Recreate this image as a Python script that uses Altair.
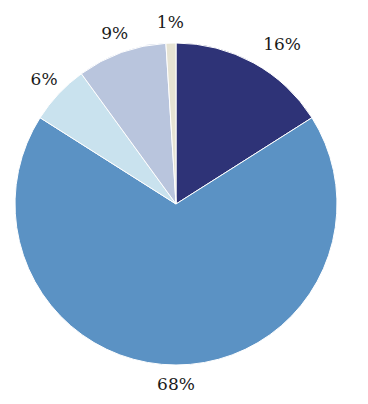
import altair as alt
import pandas as pd

categories = ["A", "B", "C", "D", "E"]
values = [16, 68, 6, 9, 1]
labels = ["16%", "68%", "6%", "9%", "1%"]
colors = ["#2E3377", "#5B92C4", "#C9E2EE", "#B9C5DD", "#E6E3D3"]

df = pd.DataFrame({"cat": categories, "val": values, "label": labels,
                   "order": list(range(len(categories)))})

base = alt.Chart(df).encode(
    theta=alt.Theta("val:Q", stack=True),
    order=alt.Order("order:Q"),
    x=alt.value(168),
    y=alt.value(196),
)

pie = base.mark_arc(radius=161, stroke="white", strokeWidth=1).encode(
    color=alt.Color("cat:N", scale=alt.Scale(domain=categories, range=colors), legend=None)
)

text_center = base.mark_text(radius=181, font="DejaVu Serif", fontSize=17,
                             color="#1a1a1a", align="center", baseline="middle").encode(
    text="label:N",
    opacity=alt.condition(alt.datum.cat == "A", alt.value(0), alt.value(1)),
)

text_right = base.mark_text(radius=181, font="DejaVu Serif", fontSize=17,
                            color="#1a1a1a", align="left", baseline="middle").encode(
    text="label:N",
    opacity=alt.condition(alt.datum.cat == "A", alt.value(1), alt.value(0)),
)

chart = alt.layer(pie, text_center, text_right).properties(
    width=352, height=388, padding=0, autosize=alt.AutoSizeParams(type="none")
).configure_view(stroke=None)

chart.save("out.html", embed_options={"renderer": "svg", "actions": False})
